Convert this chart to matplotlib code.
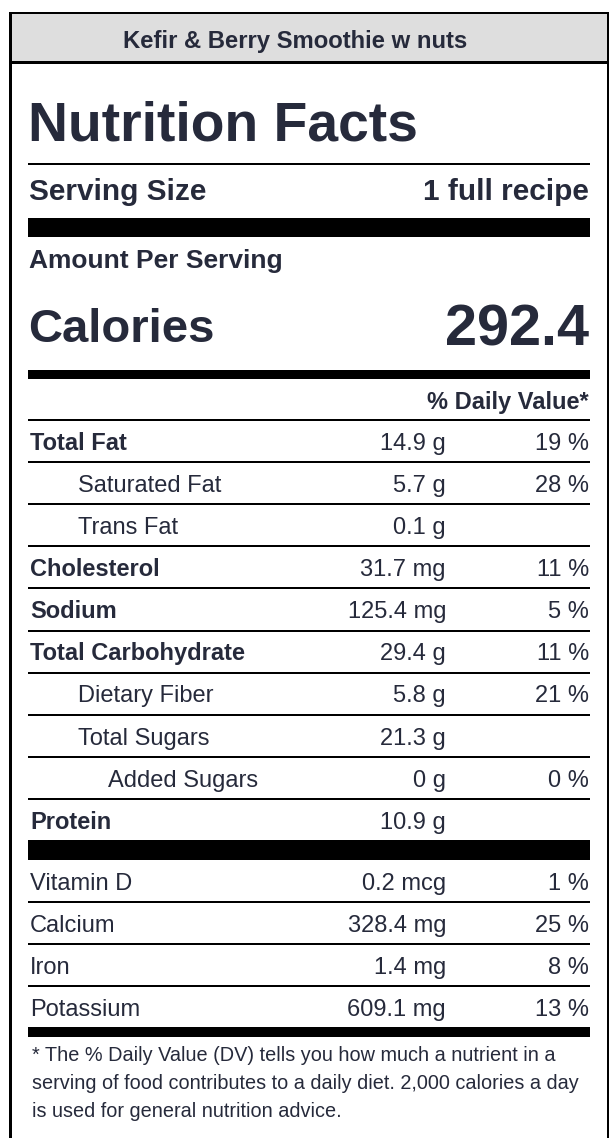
import matplotlib
matplotlib.use("Agg")
import matplotlib.pyplot as plt
from matplotlib.patches import Rectangle

# ---- data ----
title = "Kefir & Berry Smoothie w nuts"
serving_size = "1 full recipe"
calories = "292.4"
nutrients = ["Total Fat", "Saturated Fat", "Trans Fat", "Cholesterol", "Sodium",
             "Total Carbohydrate", "Dietary Fiber", "Total Sugars", "Added Sugars", "Protein"]
amounts = ["14.9 g", "5.7 g", "0.1 g", "31.7 mg", "125.4 mg",
           "29.4 g", "5.8 g", "21.3 g", "0 g", "10.9 g"]
daily_values = ["19 %", "28 %", "", "11 %", "5 %", "11 %", "21 %", "", "0 %", ""]
vitamins = ["Vitamin D", "Calcium", "Iron", "Potassium"]
vitamin_amounts = ["0.2 mcg", "328.4 mg", "1.4 mg", "609.1 mg"]
vitamin_dv = ["1 %", "25 %", "8 %", "13 %"]
footnote = ["* The % Daily Value (DV) tells you how much a nutrient in a",
            "serving of food contributes to a daily diet. 2,000 calories a day",
            "is used for general nutrition advice."]

# ---- styles ----
indent = [0, 1, 1, 0, 0, 0, 1, 1, 2, 0]
bold = [True, False, False, True, True, True, False, False, False, True]
TXT = "#262a3b"
FONT = "Liberation Sans"

W, H = 616, 1138
fig = plt.figure(figsize=(W / 100, H / 100), dpi=100)
ax = fig.add_axes([0, 0, 1, 1])
ax.set_xlim(0, W)
ax.set_ylim(H, 0)
ax.axis("off")

L, R = 28, 590
AMT_X = 446
INDENT_PX = [0, 48, 78]


def hbar(y0, y1, x0=L, x1=R, color="black"):
    ax.add_patch(Rectangle((x0, y0), x1 - x0, y1 - y0, color=color, lw=0))


def txt(x, y, s, size, weight="normal", ha="left"):
    ax.text(x, y, s, fontsize=size, fontweight=weight, ha=ha, va="baseline",
            color=TXT, family=FONT)


# outer box and header
ax.add_patch(Rectangle((10, 13), 598, 49, facecolor="#dedede", lw=0))
hbar(11.5, 14, 9, 609)
hbar(61, 63.5, 9, 609)
ax.add_patch(Rectangle((9, 11.5), 2.5, H, color="black", lw=0))
ax.add_patch(Rectangle((606.5, 11.5), 2.5, H, color="black", lw=0))
txt(295, 47.5, title, 17.2, "bold", ha="center")

txt(L, 140, "Nutrition Facts", 39.8, "bold")
hbar(163, 165)
txt(L + 1, 200, "Serving Size", 21.4, "bold")
txt(R - 1, 200, serving_size, 21.4, "bold", ha="right")
hbar(218, 237)
txt(L + 1, 268, "Amount Per Serving", 19, "bold")
txt(L, 342, "Calories", 34, "bold")
txt(R - 1, 345, calories, 41.5, "bold", ha="right")
hbar(370, 379)
txt(R - 1, 409, "% Daily Value*", 17, "bold", ha="right")

row0 = 420
step = 42.1
for i, (n, a, d) in enumerate(zip(nutrients, amounts, daily_values)):
    top = row0 + step * i
    hbar(top - 1, top + 1)
    base = top + 29.8
    txt(L + 2 + INDENT_PX[indent[i]], base, n, 17,
        "bold" if bold[i] else "normal")
    txt(AMT_X, base, a, 17, ha="right")
    if d:
        txt(R - 1, base, d, 17, ha="right")
hbar(row0 + step * 9 - 1, row0 + step * 9 + 1)

hbar(840, 860)
vrow0 = 860
for i, (n, a, d) in enumerate(zip(vitamins, vitamin_amounts, vitamin_dv)):
    top = vrow0 + step * i
    if i > 0:
        hbar(top - 1, top + 1)
    base = top + 29.5
    txt(L + 2, base, n, 17)
    txt(AMT_X, base, a, 17, ha="right")
    txt(R - 1, base, d, 17, ha="right")

hbar(1027, 1037)
for j, line in enumerate(footnote):
    txt(L + 4, 1061 + 28 * j, line, 14.3)

fig.savefig("out.png", dpi=100)
